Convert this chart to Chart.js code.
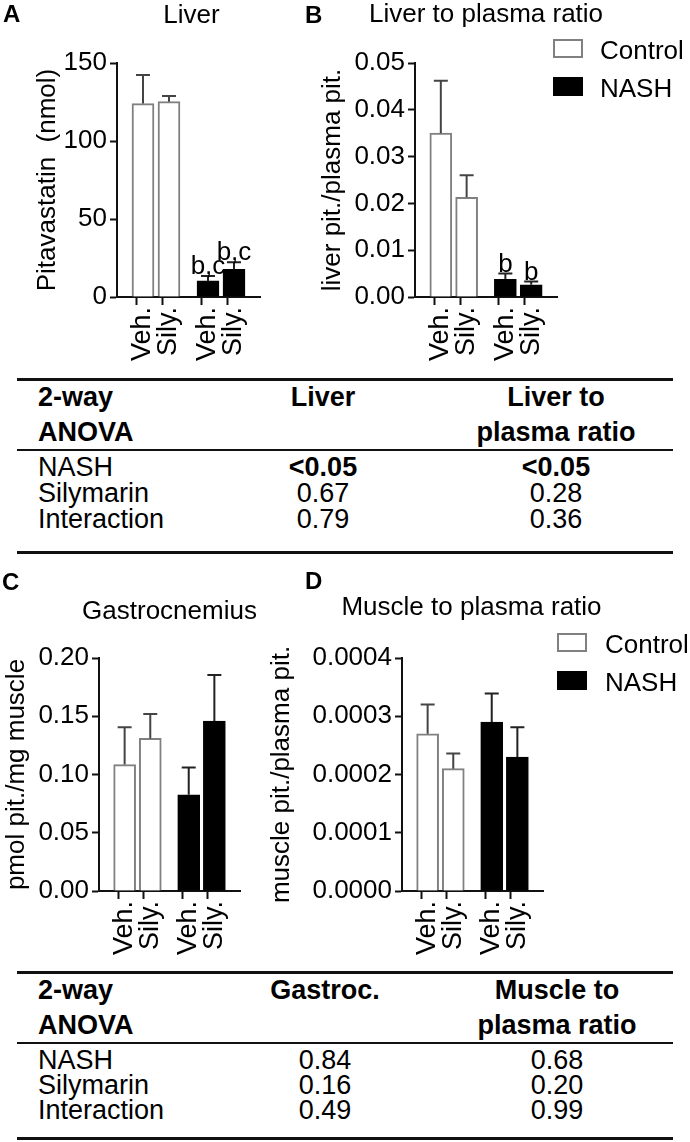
<!DOCTYPE html>
<html>
<head>
<meta charset="utf-8">
<script src="https://cdn.jsdelivr.net/npm/chart.js@4.4.1/dist/chart.umd.min.js"></script>
<style>
  body { margin: 0; background: #fff; }
  #page { position: relative; width: 690px; height: 1142px; overflow: hidden;
          font-family: "Liberation Sans", Arial, sans-serif; color: #000; }
  canvas { position: absolute; }
  .t { position: absolute; white-space: nowrap; line-height: 1; }
  .rule { position: absolute; left: 17px; width: 656px; background: #111; }
  .box { position: absolute; width: 26px; height: 15px; border: 2px solid #808080; background: #fff; }
</style>
</head>
<body>
<div id="page">
  <canvas id="chartA" width="280" height="372" style="left:0;top:0"></canvas>
  <canvas id="chartB" width="440" height="372" style="left:250px;top:0"></canvas>
  <canvas id="chartC" width="280" height="412" style="left:0;top:560px"></canvas>
  <canvas id="chartD" width="440" height="412" style="left:250px;top:560px"></canvas>
</div>
<script>
// x categories: blank spacer slots keep the Control and NASH pairs apart
const axisLabels = ['', '', 'Veh.', '', 'Sily.', '', '', 'Veh.', '', 'Sily.', '', ''];

// A: liver pitavastatin (nmol)
const liverCtrl = [124, 125.2];
const liverCtrlSem = [18.3, 3.6];
const liverNash = [10.3, 17.7];
const liverNashSem = [3.2, 4.5];
const liverSig = ['b,c', 'b,c'];

// B: liver / plasma ratio
const liverRatioCtrl = [0.035, 0.0213];
const liverRatioCtrlSem = [0.0112, 0.0047];
const liverRatioNash = [0.0038, 0.0026];
const liverRatioNashSem = [0.0012, 0.0007];
const liverRatioSig = ['b', 'b'];

// C: gastrocnemius (pmol pit./mg muscle)
const muscleCtrl = [0.1085, 0.131];
const muscleCtrlSem = [0.032, 0.021];
const muscleNash = [0.0826, 0.1459];
const muscleNashSem = [0.0234, 0.0396];

// D: muscle / plasma ratio
const muscleRatioCtrl = [0.00027, 0.00021];
const muscleRatioCtrlSem = [0.00005, 0.000026];
const muscleRatioNash = [0.00029, 0.00023];
const muscleRatioNashSem = [0.000049, 0.000051];

// 2-way ANOVA tables
const anovaFactors = ['NASH', 'Silymarin', 'Interaction'];
const anovaLiverP = ['<0.05', '0.67', '0.79'];
const anovaLiverRatioP = ['<0.05', '0.28', '0.36'];
const anovaMuscleP = ['0.84', '0.16', '0.49'];
const anovaMuscleRatioP = ['0.68', '0.20', '0.99'];

const FONT = '"Liberation Sans", Arial, sans-serif';
Chart.defaults.font.family = FONT;
Chart.defaults.color = '#000';

// labelled slots in order: first pair is Control, second pair NASH
const barSlots = axisLabels.map((l, i) => (l ? i : -1)).filter(i => i >= 0);

function spread(values, group) {
    const out = axisLabels.map(() => null);
    if (!values) return out;
    values.forEach((v, k) => { out[barSlots[group * 2 + k]] = v; });
    return out;
}

// error bars (upper only) and significance letters
const errorBars = {
    id: 'errorBars',
    afterDatasetsDraw(chart) {
        const ctx = chart.ctx;
        const yScale = chart.scales.y;
        chart.data.datasets.forEach((ds, i) => {
            chart.getDatasetMeta(i).data.forEach((bar, j) => {
                const v = ds.data[j];
                if (v == null) return;
                const top = yScale.getPixelForValue(v + ds.sem[j]);
                ctx.save();
                ctx.strokeStyle = ds.errColor;
                ctx.lineWidth = 2;
                ctx.beginPath();
                ctx.moveTo(bar.x, bar.y);
                ctx.lineTo(bar.x, top);
                ctx.moveTo(bar.x - 7, top);
                ctx.lineTo(bar.x + 7, top);
                ctx.stroke();
                if (ds.sig[j]) {
                    ctx.fillStyle = '#000';
                    ctx.font = '26px ' + FONT;
                    ctx.textAlign = 'center';
                    ctx.textBaseline = 'alphabetic';
                    ctx.fillText(ds.sig[j], bar.x, top - 2);
                }
                ctx.restore();
            });
        });
    }
};

function createBarPanel(canvasId, geo, ctrl, ctrlSem, nash, nashSem, sig, yMax, yStep, decimals, yTitle) {
    const el = document.getElementById(canvasId);
    return new Chart(el, {
        type: 'bar',
        data: {
            labels: axisLabels,
            datasets: [{
                label: 'Control',
                data: spread(ctrl, 0),
                sem: spread(ctrlSem, 0),
                sig: spread(null, 0),
                backgroundColor: '#fff',
                borderColor: '#808080',
                borderWidth: 2,
                errColor: '#444'
            }, {
                label: 'NASH',
                data: spread(nash, 1),
                sem: spread(nashSem, 1),
                sig: spread(sig, 1),
                backgroundColor: '#000',
                borderColor: '#000',
                borderWidth: 1,
                errColor: '#222'
            }]
        },
        options: {
            responsive: false,
            animation: false,
            skipNull: true,
            barThickness: 22,
            layout: { padding: { left: 0, top: geo.top, right: geo.w - geo.right, bottom: 0 } },
            plugins: { legend: { display: false }, tooltip: { enabled: false } },
            scales: {
                x: {
                    type: 'category',
                    offset: false,
                    grid: {
                        drawOnChartArea: false,
                        tickLength: 8,
                        tickWidth: 2,
                        tickColor: c => (c.tick && c.tick.label) ? '#111' : 'rgba(0,0,0,0)'
                    },
                    border: { color: '#111', width: 2 },
                    ticks: { autoSkip: false, minRotation: 90, maxRotation: 90, padding: 2, font: { size: 27 } },
                    afterFit: s => { s.height = geo.h - geo.bottom; s.paddingLeft = 0; s.paddingRight = 0; }
                },
                y: {
                    min: 0,
                    max: yMax,
                    ticks: { stepSize: yStep, padding: 3, font: { size: 26 }, callback: v => v.toFixed(decimals) },
                    grid: { drawOnChartArea: false, tickLength: 7, tickWidth: 2, tickColor: '#111' },
                    border: { color: '#111', width: 2 },
                    title: { display: true, text: yTitle, font: { size: 26 }, padding: { top: geo.titleX - 15.6, bottom: 0 } },
                    afterFit: s => { s.width = geo.left; s.paddingTop = 0; s.paddingBottom = 0; }
                }
            }
        },
        plugins: [errorBars]
    });
}

createBarPanel('chartA', { w: 280, h: 372, left: 117, right: 260, top: 63, bottom: 297, titleX: 47.5 },
    liverCtrl, liverCtrlSem, liverNash, liverNashSem, liverSig, 150, 50, 0, 'Pitavastatin  (nmol)');
createBarPanel('chartB', { w: 440, h: 372, left: 165, right: 307, top: 63, bottom: 297, titleX: 83 },
    liverRatioCtrl, liverRatioCtrlSem, liverRatioNash, liverRatioNashSem, liverRatioSig, 0.05, 0.01, 2, 'liver pit./plasma pit.');
createBarPanel('chartC', { w: 280, h: 412, left: 99, right: 240, top: 98, bottom: 331, titleX: 16.5 },
    muscleCtrl, muscleCtrlSem, muscleNash, muscleNashSem, null, 0.2, 0.05, 2, 'pmol pit./mg muscle');
createBarPanel('chartD', { w: 440, h: 412, left: 152, right: 293, top: 98, bottom: 331, titleX: 32 },
    muscleRatioCtrl, muscleRatioCtrlSem, muscleRatioNash, muscleRatioNashSem, null, 0.0004, 0.0001, 4, 'muscle pit./plasma pit.');

// page text, legends and tables
const page = document.getElementById('page');

function addText(str, x, base, size, opts = {}) {
    const d = document.createElement('div');
    d.className = 't';
    d.textContent = str;
    d.style.fontSize = size + 'px';
    d.style.top = (base - 0.8465 * size) + 'px';
    d.style.left = x + 'px';
    if (opts.center) d.style.transform = 'translateX(-50%)';
    if (opts.bold) d.style.fontWeight = 'bold';
    page.appendChild(d);
}

function addRule(y, h) {
    const d = document.createElement('div');
    d.className = 'rule';
    d.style.top = y + 'px';
    d.style.height = h + 'px';
    page.appendChild(d);
}

function addLegend(x, y, textX) {
    const b1 = document.createElement('div');
    b1.className = 'box';
    b1.style.left = x + 'px';
    b1.style.top = y + 'px';
    page.appendChild(b1);
    const b2 = document.createElement('div');
    b2.className = 'box';
    b2.style.left = x + 'px';
    b2.style.top = (y + 38) + 'px';
    b2.style.background = '#000';
    b2.style.borderColor = '#000';
    page.appendChild(b2);
    addText('Control', textX, y + 20, 26);
    addText('NASH', textX, y + 58, 26);
}

addText('A', 3, 22, 24, { bold: true });
addText('Liver', 191.5, 23, 26, { center: true });
addText('B', 305, 23, 24, { bold: true });
addText('Liver to plasma ratio', 486, 22, 26, { center: true });
addLegend(553, 39, 600);

addText('C', 2, 590, 24, { bold: true });
addText('Gastrocnemius', 169.5, 619, 26, { center: true });
addText('D', 305, 589, 24, { bold: true });
addText('Muscle to plasma ratio', 471.5, 615, 26, { center: true });
addLegend(557, 633, 605);

function addTable(top, col2X, col3X, head2, head3a, head3b, p2, p3, rowGap, height) {
    addRule(top - 1, 3);
    addText('2-way', 38, top + 28, 27, { bold: true });
    addText('ANOVA', 38, top + 63, 27, { bold: true });
    addText(head2, col2X, top + 28, 27, { bold: true, center: true });
    addText(head3a, col3X, top + 28, 27, { bold: true, center: true });
    addText(head3b, col3X, top + 63, 27, { bold: true, center: true });
    addRule(top + 70, 2);
    anovaFactors.forEach((f, i) => {
        const base = top + 98 + i * rowGap;
        addText(f, 38, base, 27);
        addText(p2[i], col2X, base, 27, { center: true, bold: p2[i].startsWith('<') });
        addText(p3[i], col3X, base, 27, { center: true, bold: p3[i].startsWith('<') });
    });
    addRule(top + height, 3);
}

addTable(379, 323, 556, 'Liver', 'Liver to', 'plasma ratio', anovaLiverP, anovaLiverRatioP, 26, 172);
addTable(972, 325, 557, 'Gastroc.', 'Muscle to', 'plasma ratio', anovaMuscleP, anovaMuscleRatioP, 25, 165);
</script>
</body>
</html>
